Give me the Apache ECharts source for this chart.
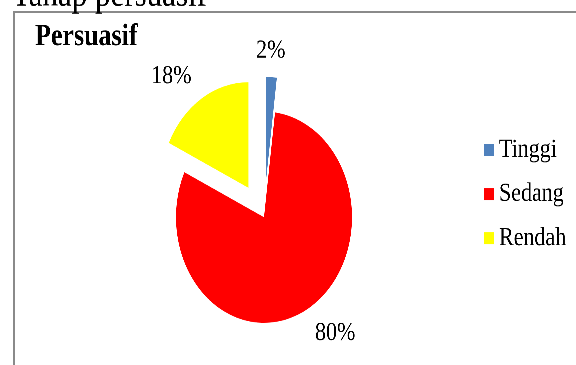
<!DOCTYPE html>
<html><head><meta charset="utf-8">
<script src="https://cdn.jsdelivr.net/npm/echarts@6/dist/echarts.min.js"></script>
<style>
html,body{margin:0;padding:0;background:#fff;overflow:hidden;width:576px;height:365px;}
#frame{position:absolute;left:13px;top:11px;width:600px;height:400px;border-left:2px solid #8a8a8a;border-top:2px solid #8a8a8a;box-sizing:border-box;}
#chart{position:absolute;left:0;top:0;width:576px;height:304px;transform:scaleY(1.2);transform-origin:0 0;}
</style></head><body>
<div id="frame"></div>
<div id="chart"></div>
<script>
const pageHeading = 'Tahap persuasif';
const chartTitle = 'Persuasif';
const categories = ['Tinggi', 'Sedang', 'Rendah'];
const values = [2, 80, 18];
const explodedCategories = ['Tinggi', 'Rendah'];

const FONT = 'Liberation Serif, serif';
const colors = ['#4F81BD', '#FF0000', '#FFFF00'];

const chart = echarts.init(document.getElementById('chart'), null, {renderer: 'canvas', devicePixelRatio: 3});
chart.setOption({
  animation: false,
  backgroundColor: 'transparent',
  title: [
    {text: pageHeading, left: 12, top: -19, padding: 0,
     textStyle: {fontFamily: FONT, fontSize: 31, fontWeight: 'normal', color: '#000', lineHeight: 31}},
    {text: chartTitle, left: 35, top: 18, padding: 0,
     textStyle: {fontFamily: FONT, fontSize: 26, fontWeight: 'bold', color: '#000', lineHeight: 26}}
  ],
  legend: {
    orient: 'vertical', left: 484, top: 114, padding: 0,
    itemWidth: 10, itemHeight: 10, itemGap: 14.7, icon: 'rect',
    selectedMode: false,
    data: categories,
    textStyle: {fontFamily: FONT, fontSize: 22, color: '#000', lineHeight: 22}
  },
  series: [{
    type: 'pie',
    center: [264, 181],
    radius: 88,
    startAngle: 90,
    clockwise: true,
    selectedMode: 'multiple',
    selectedOffset: 29,
    avoidLabelOverlap: false,
    emphasis: {disabled: true},
    select: {itemStyle: {borderWidth: 0}},
    itemStyle: {borderWidth: 0},
    label: {
      show: true, position: 'outside', formatter: '{c}%',
      fontFamily: FONT, fontSize: 22, color: '#000', distanceToLabelLine: -2
    },
    labelLine: {show: false, length: 22, length2: 0},
    labelLayout: function (p) { return p.dataIndex === 0 ? {align: 'center'} : {}; },
    data: categories.map((name, i) => ({
      name: name, value: values[i],
      selected: explodedCategories.indexOf(name) >= 0,
      itemStyle: {color: colors[i]}
    }))
  }]
});
</script>
</body></html>
